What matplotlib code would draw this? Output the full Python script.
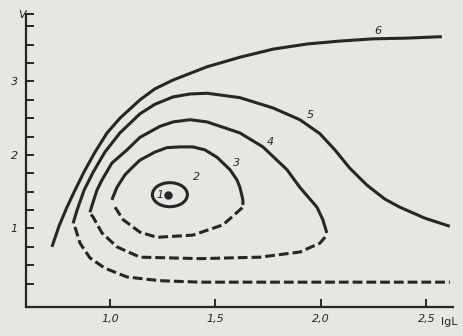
import numpy as np
import matplotlib
matplotlib.use("Agg")
import matplotlib.pyplot as plt
import matplotlib.patches as patches

# curves (lgL, V)
c6_x = [0.725, 0.758, 0.796, 0.834, 0.877, 0.929, 0.986, 1.047, 1.142, 1.213, 1.299,
        1.460, 1.616, 1.773, 1.934, 2.090, 2.246, 2.408, 2.573]
c6_y = [0.75, 1.03, 1.29, 1.52, 1.77, 2.04, 2.30, 2.50, 2.75, 2.90, 3.02,
        3.20, 3.33, 3.44, 3.51, 3.55, 3.58, 3.59, 3.61]

c5_x = [0.825, 0.844, 0.877, 0.919, 0.976, 1.047, 1.142, 1.213, 1.299, 1.379, 1.460,
        1.616, 1.773, 1.900, 1.995, 2.066, 2.137, 2.218, 2.303, 2.374, 2.493, 2.611]
c5_y = [1.07, 1.25, 1.52, 1.76, 2.04, 2.30, 2.56, 2.69, 2.79, 2.83, 2.84,
        2.78, 2.64, 2.48, 2.29, 2.07, 1.82, 1.59, 1.40, 1.29, 1.14, 1.03]
c5d_x = [0.834, 0.858, 0.905, 0.976, 1.081, 1.237, 1.427, 2.611]
c5d_y = [1.02, 0.80, 0.60, 0.46, 0.34, 0.29, 0.27, 0.27]

c4_x = [0.905, 0.919, 0.938, 0.962, 1.009, 1.081, 1.142, 1.237, 1.299, 1.379,
        1.460, 1.616, 1.725, 1.839, 1.900, 1.981, 2.009, 2.028]
c4_y = [1.22, 1.35, 1.52, 1.66, 1.89, 2.07, 2.24, 2.39, 2.45, 2.48,
        2.45, 2.30, 2.11, 1.80, 1.56, 1.29, 1.12, 0.94]
c4d_x = [0.910, 0.919, 0.962, 1.033, 1.142, 1.427, 1.711, 1.900, 1.995, 2.028]
c4d_y = [1.19, 1.16, 0.94, 0.75, 0.61, 0.59, 0.61, 0.68, 0.80, 0.91]

c3_x = [1.009, 1.033, 1.071, 1.109, 1.142, 1.213, 1.270, 1.332, 1.393, 1.450, 1.507,
        1.569, 1.602, 1.616, 1.630, 1.630]
c3_y = [1.39, 1.56, 1.73, 1.84, 1.93, 2.04, 2.10, 2.11, 2.11, 2.07, 1.97,
        1.80, 1.66, 1.56, 1.39, 1.32]
c3d_x = [1.024, 1.062, 1.142, 1.223, 1.393, 1.536, 1.630]
c3d_y = [1.29, 1.12, 0.95, 0.88, 0.91, 1.05, 1.29]

# curve 2 is a small closed ring, curve 1 a point
ring_center = (1.284, 1.46)
ring_w, ring_h = 0.166, 0.327
dot_x, dot_y = [1.275], [1.46]

labels = ["1", "2", "3", "4", "5", "6"]
label_x = [1.238, 1.412, 1.602, 1.758, 1.948, 2.270]
label_y = [1.46, 1.70, 1.89, 2.18, 2.54, 3.69]

xticks = [1.0, 1.5, 2.0, 2.5]
xtick_labels = ["1,0", "1,5", "2,0", "2,5"]
yticks = [1, 2, 3]
yminor = [0.25, 0.5, 0.75, 1.25, 1.5, 1.75, 2.25, 2.5, 2.75, 3.25, 3.5, 3.75, 3.918]

paper = "#e6e6e3"
ink = "#262626"
lw = 2.2

fig = plt.figure(figsize=(4.63, 3.36), dpi=100, facecolor=paper)
ax = fig.add_axes([0.0562, 0.0863, 0.9222, 0.872])
ax.set_facecolor(paper)

for xs, ys in [(c6_x, c6_y), (c5_x, c5_y), (c4_x, c4_y), (c3_x, c3_y)]:
    ax.plot(xs, ys, color=ink, lw=lw, solid_capstyle="butt", solid_joinstyle="round")
for xs, ys in [(c5d_x, c5d_y), (c4d_x, c4d_y), (c3d_x, c3d_y)]:
    ax.plot(xs, ys, color=ink, lw=lw, dashes=(3.2, 1.3), dash_joinstyle="round")

ax.add_patch(patches.Ellipse(ring_center, ring_w, ring_h, fill=False,
                             edgecolor=ink, lw=lw))
ax.plot(dot_x, dot_y, "o", color=ink, ms=5)

for t, x, y in zip(labels, label_x, label_y):
    ax.text(x, y, t, fontsize=8, style="italic", color=ink,
            ha="center", va="center")

ax.set_xlim(0.602, 2.626)
ax.set_ylim(-0.068, 3.918)

for s in ["top", "right"]:
    ax.spines[s].set_visible(False)
for s in ["left", "bottom"]:
    ax.spines[s].set_linewidth(1.6)
    ax.spines[s].set_color(ink)

ax.set_xticks(xticks)
ax.set_xticklabels(xtick_labels)
ax.set_yticks(yticks)
ax.set_yticks(yminor, minor=True)
ax.tick_params(axis="both", which="both", direction="in", color=ink,
               width=1.4, labelcolor=ink, labelsize=8)
ax.tick_params(axis="y", which="both", length=6, pad=6)
ax.tick_params(axis="x", which="both", length=6, pad=5)
for lab in ax.get_xticklabels() + ax.get_yticklabels():
    lab.set_style("italic")

ax.text(0.972, -0.052, "lgL", transform=ax.transAxes, fontsize=8,
        color=ink, ha="left", va="center")
ax.text(-0.009, 0.995, "V", transform=ax.transAxes, fontsize=8,
        style="italic", color=ink, ha="center", va="center")

fig.savefig("out.png", dpi=100, facecolor=paper)
